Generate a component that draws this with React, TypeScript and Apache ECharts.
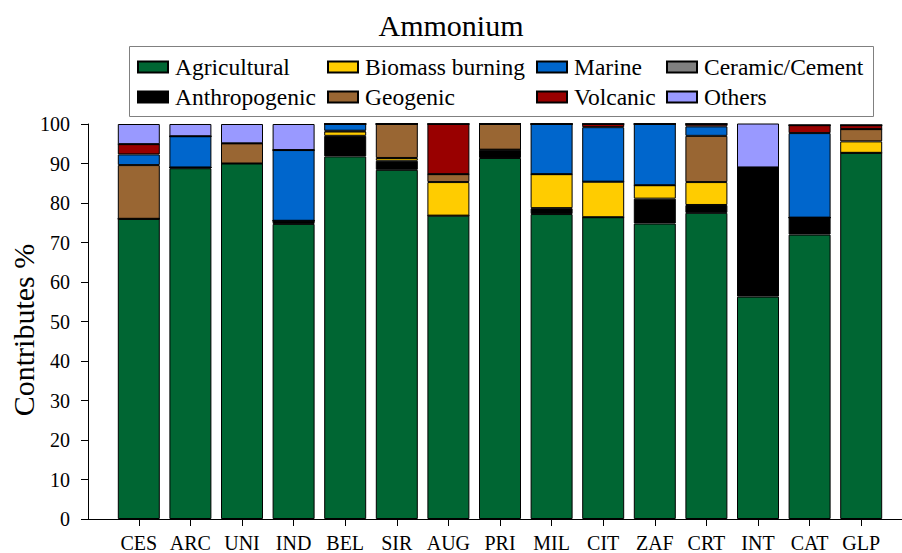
import React, { useEffect, useRef } from "react";
import * as echarts from "echarts";

const categories = ["CES", "ARC", "UNI", "IND", "BEL", "SIR", "AUG", "PRI", "MIL", "CIT", "ZAF", "CRT", "INT", "CAT", "GLP"];
const agricultural = [76.0, 88.8, 90.0, 74.7, 91.8, 88.4, 76.8, 91.4, 77.2, 76.4, 74.8, 77.5, 56.3, 72.0, 92.7];
const anthropogenic = [0, 0.2, 0, 0.8, 5.2, 2.3, 0, 2.1, 1.5, 0, 6.3, 2.0, 32.7, 4.3, 0];
const biomassBurning = [0, 0, 0, 0, 1.1, 0.7, 8.5, 0, 8.6, 9.0, 3.4, 5.8, 0, 0, 2.9];
const geogenic = [13.6, 0, 5.1, 0, 0.2, 8.6, 2.0, 6.5, 0, 0, 0, 11.7, 0, 0, 3.1];
const marine = [2.7, 7.9, 0, 17.9, 1.7, 0, 0, 0, 12.7, 13.8, 15.5, 2.4, 0, 21.4, 0];
const volcanic = [2.6, 0, 0, 0, 0, 0, 12.7, 0, 0, 0.8, 0, 0.6, 0, 2.0, 1.0];
const ceramicCement = [0, 0, 0, 0, 0, 0, 0, 0, 0, 0, 0, 0, 0, 0, 0];
const others = [5.1, 3.1, 4.9, 6.6, 0, 0, 0, 0, 0, 0, 0, 0, 11.3, 0, 0];
const yTicks = [0, 100, 10];
const yAxisTitle = "Contributes %";

const FONT = "'Liberation Serif', 'Times New Roman', serif";

export default function App() {
  const ref = useRef<HTMLDivElement>(null);
  useEffect(() => {
    const chart = echarts.init(ref.current!, null, { renderer: "svg" });
    const row1 = 55;
    const row2 = 85;
    const defs = [
      { name: "Agricultural", data: agricultural, color: "#006633", pos: [137, row1] },
      { name: "Anthropogenic", data: anthropogenic, color: "#000000", pos: [137, row2] },
      { name: "Biomass burning", data: biomassBurning, color: "#FFCC00", pos: [327, row1] },
      { name: "Geogenic", data: geogenic, color: "#996633", pos: [327, row2] },
      { name: "Marine", data: marine, color: "#0066CC", pos: [536, row1] },
      { name: "Volcanic", data: volcanic, color: "#990000", pos: [536, row2] },
      { name: "Ceramic/Cement", data: ceramicCement, color: "#808080", pos: [666, row1] },
      { name: "Others", data: others, color: "#9999FF", pos: [666, row2] },
    ];
    chart.setOption({
      animation: false,
      textStyle: { fontFamily: FONT },
      title: {
        text: "Ammonium",
        left: "center",
        top: 5,
        textStyle: { fontFamily: FONT, fontSize: 30, fontWeight: "normal", color: "#000" },
      },
      legend: defs.map((d) => ({
        data: [d.name],
        left: d.pos[0],
        top: d.pos[1],
        padding: 0,
        itemWidth: 30,
        itemHeight: 11,
        icon: "rect",
        selectedMode: false,
        textStyle: { fontFamily: FONT, fontSize: 23.5, color: "#000", padding: [0, 0, 0, 2] },
      })),
      grid: { left: 113, right: 15, top: 124, bottom: 34, outerBoundsMode: "none", containLabel: false },
      xAxis: {
        type: "category",
        data: categories,
        axisLine: { show: false },
        axisTick: { show: true, alignWithLabel: true, length: 7, lineStyle: { color: "#000" } },
        axisLabel: { interval: 0, margin: 14, fontFamily: FONT, fontSize: 20, color: "#000" },
      },
      yAxis: {
        type: "value",
        min: yTicks[0],
        max: yTicks[1],
        interval: yTicks[2],
        offset: 25,
        axisLine: { show: true, lineStyle: { color: "#000" } },
        axisTick: { show: true, length: 7, lineStyle: { color: "#000" } },
        axisLabel: { margin: 18, fontFamily: FONT, fontSize: 20, color: "#000" },
        splitLine: { show: false },
      },
      graphic: [
        {
          type: "rect",
          z: -1,
          shape: { x: 129.5, y: 46.5, width: 744, height: 70 },
          style: { fill: "#fff", stroke: "#808080", lineWidth: 1 },
        },
        {
          type: "line",
          shape: { x1: 88, y1: 519.5, x2: 902, y2: 519.5 },
          style: { stroke: "#000", lineWidth: 1 },
        },
        {
          type: "text",
          x: 23,
          y: 330,
          rotation: Math.PI / 2,
          style: {
            text: yAxisTitle,
            fill: "#000",
            font: "30px " + FONT,
            textAlign: "center",
            textVerticalAlign: "middle",
          },
        },
      ],
      series: defs.map((d) => ({
        name: d.name,
        type: "bar",
        stack: "total",
        barWidth: 42,
        data: d.data,
        itemStyle: { color: d.color, borderColor: "#000", borderWidth: 1 },
        emphasis: { disabled: true },
      })),
    });
    return () => chart.dispose();
  }, []);
  return (
    <div
      ref={ref}
      style={{ position: "fixed", left: 0, top: 0, width: 902, height: 553, background: "#fff" }}
    />
  );
}
